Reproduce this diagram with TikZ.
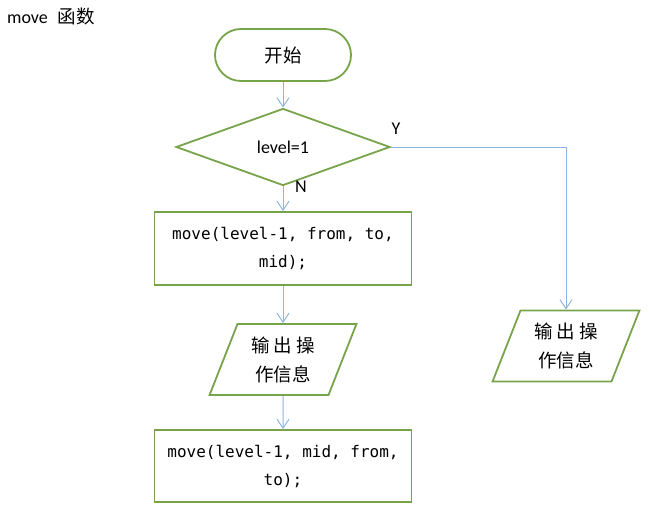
\documentclass[tikz,border=0pt]{standalone}
\usepackage{fontspec}
\setmainfont{Carlito}
\setmonofont{DejaVu Sans Mono}
\newfontfamily\cjk{Noto Sans CJK SC}
\usetikzlibrary{shapes.geometric, arrows.meta}

\definecolor{boxgreen}{RGB}{119,163,75}
\definecolor{linkblue}{RGB}{141,180,222}

\tikzset{
  every node/.style={inner sep=0pt},
  startbox/.style={draw=boxgreen, line width=1.8pt, rounded corners=26pt,
    minimum width=136pt, minimum height=52pt, font=\cjk\fontsize{18.5}{28}\selectfont},
  decidebox/.style={draw=boxgreen, line width=1.8pt, diamond, aspect=2.78,
    minimum width=214pt, minimum height=77pt, font=\fontsize{18}{28}\selectfont},
  stepbox/.style={draw=boxgreen, line width=1.8pt, minimum width=257pt,
    minimum height=73pt, align=center, font=\ttfamily\fontsize{16}{28}\selectfont},
  iobox/.style={draw=boxgreen, line width=1.8pt, trapezium, trapezium stretches=true,
    trapezium left angle=67, trapezium right angle=113,
    minimum width=147pt, minimum height=71pt, align=center,
    font=\cjk\fontsize{18.5}{29}\selectfont},
  link/.style={draw=linkblue, line width=1pt, -{Straight Barb[length=9pt, width=12pt]}},
  mark label/.style={font=\fontsize{18}{20}\selectfont}
}

\begin{document}
\begin{tikzpicture}[x=1pt, y=-1pt]
    \useasboundingbox (0,0) rectangle (649,528);

    % Title
    \node[anchor=west, font=\fontsize{18}{20}\selectfont] (title) at (7,16)
        {move\hspace{10pt}{\cjk\fontsize{18.5}{20}\selectfont 函数}};

    % Main column
    \node[startbox] (start) at (283,55) {开始};
    \node[decidebox] (decide) at (283,147) {level=1};
    \node[stepbox] (step1) at (283,248.5) {move(level-1, from, to,\\mid);};
    \node[iobox] (out1) at (283,359.5) {输 出 操\\作信息};
    \node[stepbox, minimum height=72pt] (step2) at (283,466) {move(level-1, mid, from,\\to);};

    % Right branch
    \node[iobox] (out2) at (566,346) {输 出 操\\作信息};

    % Labels
    \node[mark label] (yes) at (396,129) {Y};
    \node[mark label] (no) at (301,187) {N};

    % Connectors
    \draw[link] (start) -- (decide);
    \draw[link] (decide) -- (step1);
    \draw[link] (step1) -- (out1);
    \draw[link] (out1) -- (step2);
    \draw[link] (decide.east) -| (out2.north);
\end{tikzpicture}
\end{document}
